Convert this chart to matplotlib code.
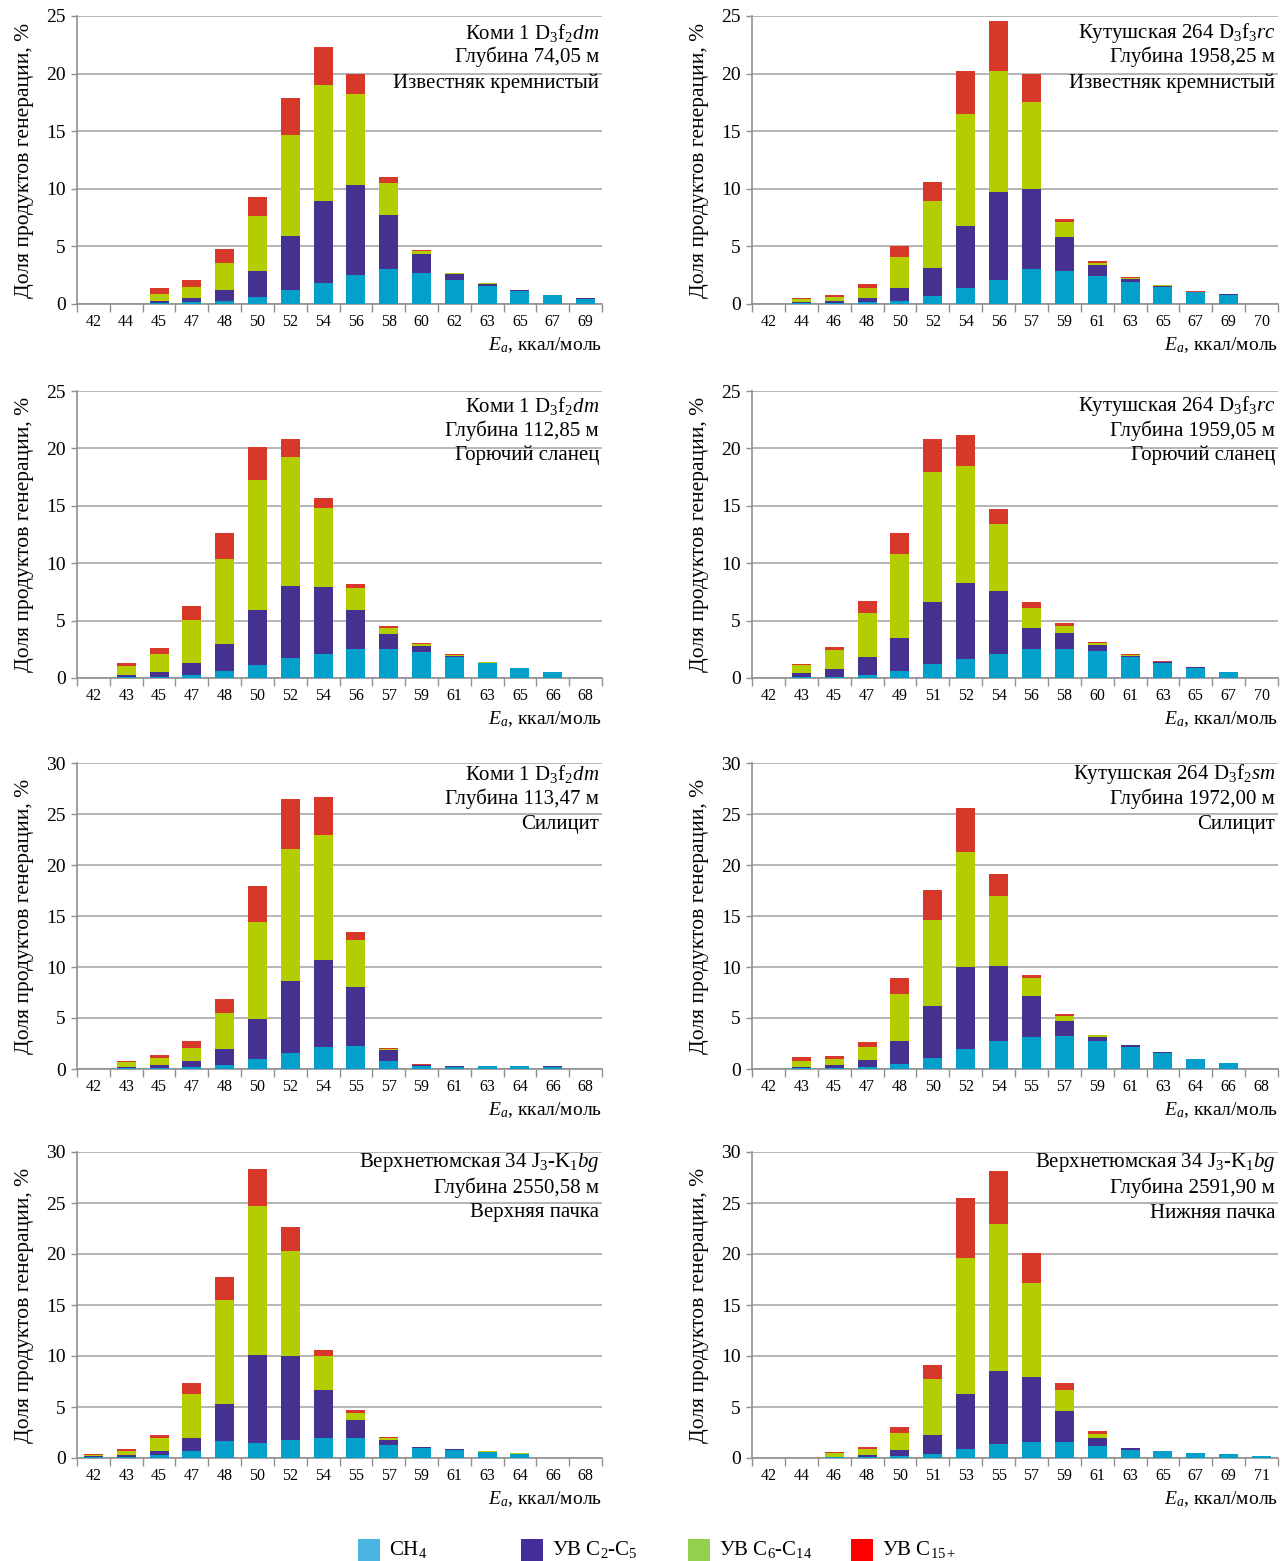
import numpy as np
import matplotlib
matplotlib.use('Agg')
import matplotlib.pyplot as plt
from matplotlib.patches import Rectangle

plt.rcParams['font.family'] = ['Liberation Serif', 'DejaVu Serif']
plt.rcParams['mathtext.fontset'] = 'custom'
plt.rcParams['mathtext.rm'] = 'Liberation Serif'
plt.rcParams['mathtext.it'] = 'Liberation Serif:italic'

# ---- data (% of generation products by activation energy, kcal/mol) ----
komi74_ea = [42, 44, 45, 47, 48, 50, 52, 54, 56, 58, 60, 62, 63, 65, 67, 69]
komi74_ch4 = [0, 0, 0.1, 0.15, 0.3, 0.6, 1.2, 1.8, 2.55, 3.05, 2.7, 2.05, 1.6, 1.15, 0.75, 0.45]
komi74_c2 = [0, 0, 0.2, 0.4, 0.95, 2.25, 4.7, 7.1, 7.8, 4.7, 1.6, 0.55, 0.15, 0.05, 0.05, 0.03]
komi74_c6 = [0, 0, 0.55, 0.9, 2.35, 4.75, 8.8, 10.1, 7.9, 2.75, 0.3, 0.05, 0.03, 0, 0, 0]
komi74_c15 = [0, 0, 0.55, 0.65, 1.15, 1.65, 3.15, 3.3, 1.75, 0.55, 0.1, 0.05, 0.02, 0, 0, 0.02]

kut1958_ea = [42, 44, 46, 48, 50, 52, 54, 56, 57, 59, 61, 63, 65, 67, 69, 70]
kut1958_ch4 = [0, 0.05, 0.1, 0.15, 0.3, 0.7, 1.4, 2.1, 3.0, 2.9, 2.4, 1.9, 1.5, 1.0, 0.75, 0]
kut1958_c2 = [0, 0.1, 0.15, 0.35, 1.1, 2.4, 5.4, 7.6, 7.0, 2.9, 1.0, 0.3, 0.1, 0.05, 0.08, 0]
kut1958_c6 = [0, 0.3, 0.35, 0.9, 2.7, 5.8, 9.7, 10.5, 7.5, 1.3, 0.2, 0.1, 0.05, 0.02, 0.02, 0]
kut1958_c15 = [0, 0.1, 0.15, 0.3, 0.9, 1.65, 3.7, 4.4, 2.5, 0.3, 0.15, 0.05, 0.02, 0.03, 0, 0]

komi112_ea = [42, 43, 45, 47, 48, 50, 52, 54, 56, 57, 59, 61, 63, 65, 66, 68]
komi112_ch4 = [0, 0.1, 0.1, 0.3, 0.65, 1.15, 1.7, 2.05, 2.5, 2.5, 2.3, 1.85, 1.3, 0.85, 0.5, 0]
komi112_c2 = [0, 0.2, 0.45, 1.0, 2.3, 4.75, 6.35, 5.9, 3.4, 1.35, 0.5, 0.1, 0.05, 0.02, 0, 0]
komi112_c6 = [0, 0.75, 1.55, 3.75, 7.45, 11.35, 11.2, 6.85, 1.95, 0.5, 0.15, 0.05, 0.02, 0, 0, 0]
komi112_c15 = [0, 0.25, 0.5, 1.2, 2.25, 2.9, 1.6, 0.85, 0.35, 0.15, 0.1, 0.05, 0.02, 0.02, 0, 0]

kut1959_ea = [42, 43, 45, 47, 49, 51, 52, 54, 56, 58, 60, 61, 63, 65, 67, 70]
kut1959_ch4 = [0, 0.05, 0.1, 0.3, 0.6, 1.2, 1.65, 2.05, 2.55, 2.55, 2.35, 1.8, 1.35, 0.9, 0.5, 0]
kut1959_c2 = [0, 0.35, 0.7, 1.5, 2.9, 5.4, 6.65, 5.55, 1.8, 1.4, 0.55, 0.15, 0.05, 0.02, 0, 0]
kut1959_c6 = [0, 0.7, 1.6, 3.9, 7.3, 11.35, 10.15, 5.8, 1.75, 0.55, 0.15, 0.05, 0.02, 0, 0, 0]
kut1959_c15 = [0, 0.1, 0.3, 1.0, 1.8, 2.9, 2.75, 1.35, 0.5, 0.25, 0.1, 0.05, 0.02, 0, 0, 0]

komi113_ea = [42, 43, 45, 47, 48, 50, 52, 54, 55, 57, 59, 61, 63, 64, 66, 68]
komi113_ch4 = [0, 0.05, 0.05, 0.15, 0.4, 1.0, 1.6, 2.15, 2.25, 0.8, 0.3, 0.2, 0.25, 0.25, 0.2, 0]
komi113_c2 = [0, 0.1, 0.3, 0.6, 1.55, 3.95, 7.05, 8.55, 5.8, 1.05, 0.1, 0.1, 0.05, 0.02, 0.05, 0]
komi113_c6 = [0, 0.5, 0.75, 1.35, 3.55, 9.45, 12.95, 12.25, 4.6, 0.15, 0.02, 0, 0, 0, 0, 0]
komi113_c15 = [0, 0.1, 0.25, 0.6, 1.35, 3.5, 4.9, 3.75, 0.8, 0.1, 0.03, 0, 0, 0, 0, 0]

kut1972_ea = [42, 43, 45, 47, 48, 50, 52, 54, 55, 57, 59, 61, 63, 64, 66, 68]
kut1972_ch4 = [0, 0.05, 0.05, 0.15, 0.5, 1.1, 2.0, 2.7, 3.15, 3.25, 2.7, 2.2, 1.6, 0.95, 0.55, 0]
kut1972_c2 = [0, 0.15, 0.3, 0.7, 2.25, 5.1, 8.0, 7.35, 4.05, 1.45, 0.45, 0.15, 0.05, 0.02, 0.02, 0]
kut1972_c6 = [0, 0.6, 0.65, 1.3, 4.65, 8.4, 11.3, 6.95, 1.7, 0.45, 0.15, 0.03, 0.05, 0.02, 0.02, 0]
kut1972_c15 = [0, 0.35, 0.3, 0.45, 1.5, 2.95, 4.25, 2.15, 0.35, 0.2, 0.05, 0.02, 0, 0.01, 0.01, 0]

vt2550_ea = [42, 43, 45, 47, 48, 50, 52, 54, 55, 57, 59, 61, 63, 64, 66, 68]
vt2550_ch4 = [0.1, 0.1, 0.25, 0.7, 1.7, 1.5, 1.8, 1.95, 2.0, 1.3, 0.95, 0.8, 0.6, 0.4, 0, 0]
vt2550_c2 = [0.05, 0.15, 0.4, 1.3, 3.6, 8.6, 8.2, 4.7, 1.75, 0.45, 0.1, 0.05, 0.03, 0.03, 0, 0]
vt2550_c6 = [0.15, 0.45, 1.3, 4.25, 10.15, 14.6, 10.25, 3.35, 0.7, 0.2, 0.03, 0, 0.02, 0.02, 0, 0]
vt2550_c15 = [0.1, 0.15, 0.35, 1.1, 2.3, 3.65, 2.4, 0.6, 0.25, 0.1, 0.02, 0, 0, 0, 0, 0]

vt2591_ea = [42, 44, 46, 48, 50, 51, 53, 55, 57, 59, 61, 63, 65, 67, 69, 71]
vt2591_ch4 = [0, 0, 0.05, 0.1, 0.15, 0.35, 0.9, 1.4, 1.6, 1.55, 1.15, 0.8, 0.65, 0.5, 0.35, 0.2]
vt2591_c2 = [0, 0, 0.05, 0.15, 0.6, 1.95, 5.4, 7.1, 6.3, 3.1, 0.85, 0.15, 0.03, 0.03, 0.03, 0.03]
vt2591_c6 = [0, 0, 0.35, 0.6, 1.75, 5.4, 13.3, 14.4, 9.3, 2.05, 0.4, 0.03, 0, 0, 0, 0]
vt2591_c15 = [0, 0, 0.1, 0.2, 0.5, 1.45, 5.9, 5.2, 2.9, 0.65, 0.2, 0.02, 0, 0, 0, 0]

titles = [
    ['Коми 1 D$_3$f$_2$$dm$', 'Глубина 74,05 м', 'Известняк кремнистый'],
    ['Кутушская 264 D$_3$f$_3$$rc$', 'Глубина 1958,25 м', 'Известняк кремнистый'],
    ['Коми 1 D$_3$f$_2$$dm$', 'Глубина 112,85 м', 'Горючий сланец'],
    ['Кутушская 264 D$_3$f$_3$$rc$', 'Глубина 1959,05 м', 'Горючий сланец'],
    ['Коми 1 D$_3$f$_2$$dm$', 'Глубина 113,47 м', 'Силицит'],
    ['Кутушская 264 D$_3$f$_2$$sm$', 'Глубина 1972,00 м', 'Силицит'],
    ['Верхнетюмская 34 J$_3$-K$_1$$bg$', 'Глубина 2550,58 м', 'Верхняя пачка'],
    ['Верхнетюмская 34 J$_3$-K$_1$$bg$', 'Глубина 2591,90 м', 'Нижняя пачка'],
]
ymax = [25, 25, 25, 25, 30, 30, 30, 30]

panels = [
    (komi74_ea, komi74_ch4, komi74_c2, komi74_c6, komi74_c15),
    (kut1958_ea, kut1958_ch4, kut1958_c2, kut1958_c6, kut1958_c15),
    (komi112_ea, komi112_ch4, komi112_c2, komi112_c6, komi112_c15),
    (kut1959_ea, kut1959_ch4, kut1959_c2, kut1959_c6, kut1959_c15),
    (komi113_ea, komi113_ch4, komi113_c2, komi113_c6, komi113_c15),
    (kut1972_ea, kut1972_ch4, kut1972_c2, kut1972_c6, kut1972_c15),
    (vt2550_ea, vt2550_ch4, vt2550_c2, vt2550_c6, vt2550_c15),
    (vt2591_ea, vt2591_ch4, vt2591_c2, vt2591_c6, vt2591_c15),
]

series_labels = ['CH$_4$', 'УВ C$_2$-C$_5$', 'УВ C$_6$-C$_{14}$', 'УВ C$_{15+}$']
bar_colors = ['#04A0CC', '#45318F', '#B4CD00', '#D8382A']
legend_colors = ['#4BB4E3', '#442E9A', '#92D050', '#FF0000']

# ---- layout in pixels ----
W, H = 1287, 1561
col_x = [(77, 602), (752, 1278)]
row_y = [(16, 304), (391, 678), (763, 1069), (1152, 1458)]
text_offsets = [(-17, -41, -67), (-15, -40, -64), (-11, -36, -61), (-11, -36, -61)]
legend_x = [358, 521, 688, 851]

fig = plt.figure(figsize=(W / 100, H / 100), dpi=100)
grid_c = '#A8A8A8'

for k, (ea, ch4, c2, c6, c15) in enumerate(panels):
    r, c = divmod(k, 2)
    x0, x1 = col_x[c]
    y0, y1 = row_y[r]
    ax = fig.add_axes([x0 / W, 1 - y1 / H, (x1 - x0) / W, (y1 - y0) / H])
    x = np.arange(len(ea))
    bottom = np.zeros(len(ea))
    for vals, col in zip([ch4, c2, c6, c15], bar_colors):
        vals = np.array(vals)
        ax.bar(x, vals, width=0.58, bottom=bottom, color=col, edgecolor='none', zorder=3)
        bottom += vals

    ax.set_xlim(-0.5, len(ea) - 0.5)
    ax.set_ylim(0, ymax[k])
    ax.set_yticks(np.arange(0, ymax[k] + 1, 5))
    ax.yaxis.grid(True, color=grid_c, lw=1.2, zorder=0)
    ax.set_xticks(x)
    ax.set_xticklabels([str(v) for v in ea], fontsize=11.5)
    ax.set_xticks(np.arange(-0.5, len(ea), 1), minor=True)
    ax.tick_params(axis='x', which='major', length=0, pad=7)
    ax.tick_params(axis='x', which='minor', length=6, color='#909090', width=1)
    ax.tick_params(axis='y', length=4, color='#909090', width=1, labelsize=14, pad=4)
    for s in ['top', 'right']:
        ax.spines[s].set_visible(False)
    for s in ['left', 'bottom']:
        ax.spines[s].set_color('#909090')
        ax.spines[s].set_linewidth(1.2)

    ax.set_ylabel('Доля продуктов генерации, %', fontsize=15.5, labelpad=9)
    ax.set_xlabel('$E_a$, ккал/моль', fontsize=14, loc='right', labelpad=4)

    for line, dy in zip(titles[k], text_offsets[r]):
        ax.annotate(line, xy=(1, 1), xycoords='axes fraction', xytext=(-3, dy),
                    textcoords='offset pixels', ha='right', va='center', fontsize=15)

# legend drawn as separate entries, spaced like the original
leg_y = 1550
sq = 22
for lx, col, lab in zip(legend_x, legend_colors, series_labels):
    fig.add_artist(Rectangle((lx / W, 1 - (leg_y + sq / 2) / H), sq / W, sq / H,
                             transform=fig.transFigure, facecolor=col, edgecolor='none'))
    fig.text((lx + sq + 9) / W, 1 - leg_y / H, lab, fontsize=15, va='center', ha='left')

fig.savefig('out.png', dpi=100)
